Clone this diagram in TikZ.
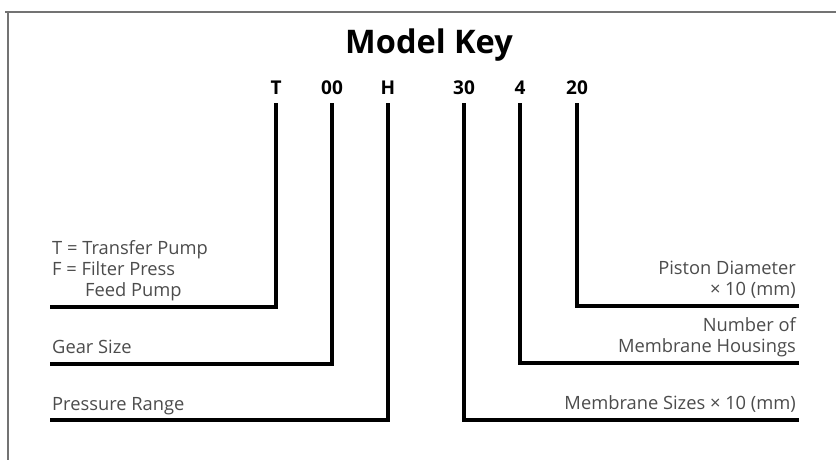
\documentclass[tikz,border=0pt]{standalone}
\usepackage{fontspec}
\setmainfont{Open Sans}
\begin{document}
\begin{tikzpicture}[x=1pt,y=-1pt,
  frame/.style={draw=black!55,line width=1.8pt},
  keyline/.style={draw=black,line width=3.4pt,line join=miter},
  code/.style={inner sep=0pt,anchor=base,font=\bfseries\fontsize{19}{19}\selectfont},
  lbl/.style={inner sep=0pt,text=black!70,font=\fontsize{18.3}{21}\selectfont},
  lblL/.style={lbl,anchor=base west,align=left},
  lblR/.style={lbl,anchor=base east,align=right}]
\useasboundingbox (0,0) rectangle (836,460);
\fill[white] (0,0) rectangle (836,460);
% outer frame (top and left edges)
\draw[frame] (5,12) -- (836,12);
\draw[frame] (8,12) -- (8,460);
% title
\node[inner sep=0pt,anchor=base,font=\bfseries\fontsize{32.5}{32.5}\selectfont] (title) at (429,54) {Model Key};
% model code characters
\node[code] (cT) at (276,95) {T};
\node[code] (cG) at (332,95) {00};
\node[code] (cH) at (388,95) {H};
\node[code] (cM) at (464,95) {30};
\node[code] (cN) at (520,95) {4};
\node[code] (cP) at (577,95) {20};
% free ends of the key lines
\coordinate (eT) at (50,307);
\coordinate (eG) at (50,364);
\coordinate (eH) at (50,420);
\coordinate (eP) at (799,306);
\coordinate (eN) at (799,363);
\coordinate (eM) at (799,420);
% key lines
\draw[keyline,shorten <=8pt] (cT.south) |- (eT);
\draw[keyline,shorten <=8pt] (cG.south) |- (eG);
\draw[keyline,shorten <=8pt] (cH.south) |- (eH);
\draw[keyline,shorten <=8pt] (cP.south) |- (eP);
\draw[keyline,shorten <=8pt] (cN.south) |- (eN);
\draw[keyline,shorten <=8pt] (cM.south) |- (eM);
% left descriptions (anchored on the baseline of the last line)
\node[lblL] (dT) at (52,296) {T = Transfer Pump\\F = Filter Press\\\hspace*{1.8em}Feed Pump};
\node[lblL] (dG) at (52,353) {Gear Size};
\node[lblL] (dH) at (52,410) {Pressure Range};
% right descriptions
\node[lblR] (dP) at (796,295) {Piston Diameter\\× 10 (mm)};
\node[lblR] (dN) at (796,352) {Number of\\Membrane Housings};
\node[lblR] (dM) at (796,409) {Membrane Sizes × 10 (mm)};
\end{tikzpicture}
\end{document}
